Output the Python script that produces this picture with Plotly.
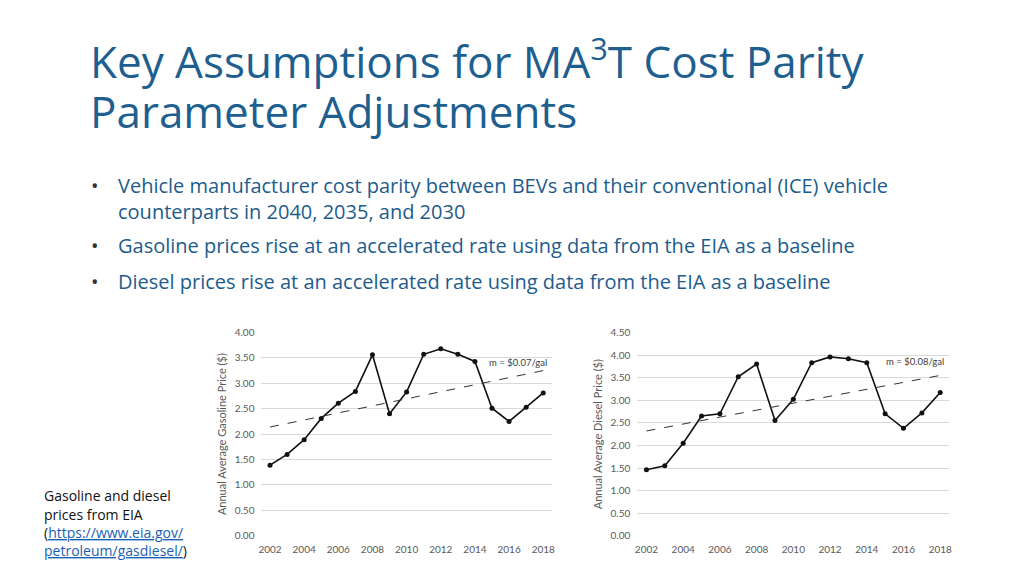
import plotly.graph_objects as go

years = list(range(2002, 2019))
gasoline = [1.39, 1.60, 1.89, 2.31, 2.61, 2.84, 3.56, 2.40, 2.83, 3.57, 3.68, 3.57, 3.43, 2.51, 2.25, 2.53, 2.81]
diesel = [1.46, 1.55, 2.05, 2.65, 2.70, 3.52, 3.80, 2.55, 3.02, 3.83, 3.96, 3.92, 3.83, 2.70, 2.38, 2.72, 3.17]
trend_years = [2002, 2018]
gas_trend = [2.14, 3.25]
diesel_trend = [2.32, 3.55]
x_ticks = [2002, 2004, 2006, 2008, 2010, 2012, 2014, 2016, 2018]
gas_y_ticks = [0, 0.5, 1.0, 1.5, 2.0, 2.5, 3.0, 3.5, 4.0]
diesel_y_ticks = [0, 0.5, 1.0, 1.5, 2.0, 2.5, 3.0, 3.5, 4.0, 4.5]

W, H = 1024, 576
TITLE_C = "#1f5f8f"
BODY_C = "#1e5c8c"
GRAY = "#595959"
CF = "Lato"
TF = "Open Sans"

fig = go.Figure()

def px(x):
    return x / W

def py(y):
    return 1 - y / H

fig.add_trace(go.Scatter(x=years, y=gasoline, mode="lines+markers",
                         line=dict(color="#111111", width=1.6),
                         marker=dict(color="#111111", size=5),
                         xaxis="x", yaxis="y", showlegend=False))
fig.add_trace(go.Scatter(x=trend_years, y=gas_trend, mode="lines",
                         line=dict(color="#333333", width=1, dash="dash"),
                         xaxis="x", yaxis="y", showlegend=False))
fig.add_trace(go.Scatter(x=years, y=diesel, mode="lines+markers",
                         line=dict(color="#111111", width=1.6),
                         marker=dict(color="#111111", size=5),
                         xaxis="x2", yaxis="y2", showlegend=False))
fig.add_trace(go.Scatter(x=trend_years, y=diesel_trend, mode="lines",
                         line=dict(color="#333333", width=1, dash="dash"),
                         xaxis="x2", yaxis="y2", showlegend=False))

axis_common = dict(showline=False, zeroline=False, ticks="", ticklabelstandoff=6,
                   tickfont=dict(family=CF, size=10, color=GRAY))
ydom = [py(541), py(333)]

fig.update_layout(
    width=W, height=H,
    margin=dict(l=0, r=0, t=0, b=0),
    paper_bgcolor="white", plot_bgcolor="white",
    xaxis=dict(domain=[px(260), px(552)], range=[2001.5, 2018.5], tickvals=x_ticks,
               showgrid=False, anchor="y", **axis_common),
    yaxis=dict(domain=ydom, range=[0, 4.0], tickvals=gas_y_ticks, tickformat=".2f",
               showgrid=True, gridcolor="#d9d9d9", gridwidth=1, anchor="x",
               title=dict(text="Annual Average Gasoline Price ($)",
                          font=dict(family=CF, size=11, color=GRAY), standoff=5),
               **axis_common),
    xaxis2=dict(domain=[px(638), px(952)], range=[2001.5, 2018.5], tickvals=x_ticks,
                showgrid=False, anchor="y2", **axis_common),
    yaxis2=dict(domain=ydom, range=[0, 4.5], tickvals=diesel_y_ticks, tickformat=".2f",
                showgrid=True, gridcolor="#d9d9d9", gridwidth=1, anchor="x2",
                title=dict(text="Annual Average Diesel Price ($)",
                           font=dict(family=CF, size=11, color=GRAY), standoff=5),
                **axis_common),
)

ann = []
ann.append(dict(x=2016.5, y=3.40, xref="x", yref="y", text="m = $0.07/gal", showarrow=False,
                font=dict(family=CF, size=9.5, color="#404040"), xanchor="center", yanchor="middle"))
ann.append(dict(x=2016.6, y=3.85, xref="x2", yref="y2", text="m = $0.08/gal", showarrow=False,
                font=dict(family=CF, size=9.5, color="#404040"), xanchor="center", yanchor="middle"))

# title
ann.append(dict(x=px(86), y=py(53), xref="paper", yref="paper",
                text="Key Assumptions for MA<sup>3</sup>T Cost Parity", showarrow=False,
                xanchor="left", yanchor="middle", font=dict(family=TF, size=44, color=TITLE_C)))
ann.append(dict(x=px(86), y=py(106), xref="paper", yref="paper",
                text="Parameter Adjustments", showarrow=False,
                xanchor="left", yanchor="middle", font=dict(family=TF, size=44, color=TITLE_C)))

# bullets
bullet_lines = [
    (183, True, "Vehicle manufacturer cost parity between BEVs and their conventional (ICE) vehicle"),
    (209, False, "counterparts in 2040, 2035, and 2030"),
    (244, True, "Gasoline prices rise at an accelerated rate using data from the EIA as a baseline"),
    (281, True, "Diesel prices rise at an accelerated rate using data from the EIA as a baseline"),
]
for yy, has_b, txt in bullet_lines:
    if has_b:
        ann.append(dict(x=px(87), y=py(yy), xref="paper", yref="paper", text="•", showarrow=False,
                        xanchor="left", yanchor="middle", font=dict(family=TF, size=20, color="#333333")))
    ann.append(dict(x=px(114), y=py(yy), xref="paper", yref="paper", text=txt, showarrow=False,
                    xanchor="left", yanchor="middle", font=dict(family=TF, size=20, color=BODY_C)))

# footnote
LINK = "#1a5fb4"
foot = [
    (500, "Gasoline and diesel"),
    (519, "prices from EIA"),
    (538, "(<span style='color:%s'><u>https://www.eia.gov/</u></span>" % LINK),
    (556, "<span style='color:%s'><u>petroleum/gasdiesel/</u></span>)" % LINK),
]
for yy, txt in foot:
    ann.append(dict(x=px(39), y=py(yy), xref="paper", yref="paper", text=txt, showarrow=False,
                    xanchor="left", yanchor="middle", font=dict(family=TF, size=14, color="#111111")))

fig.update_layout(annotations=ann)
fig.write_html("out.html", config={"displayModeBar": False},
               post_script="document.body.style.margin='0';document.body.style.overflow='hidden';")
